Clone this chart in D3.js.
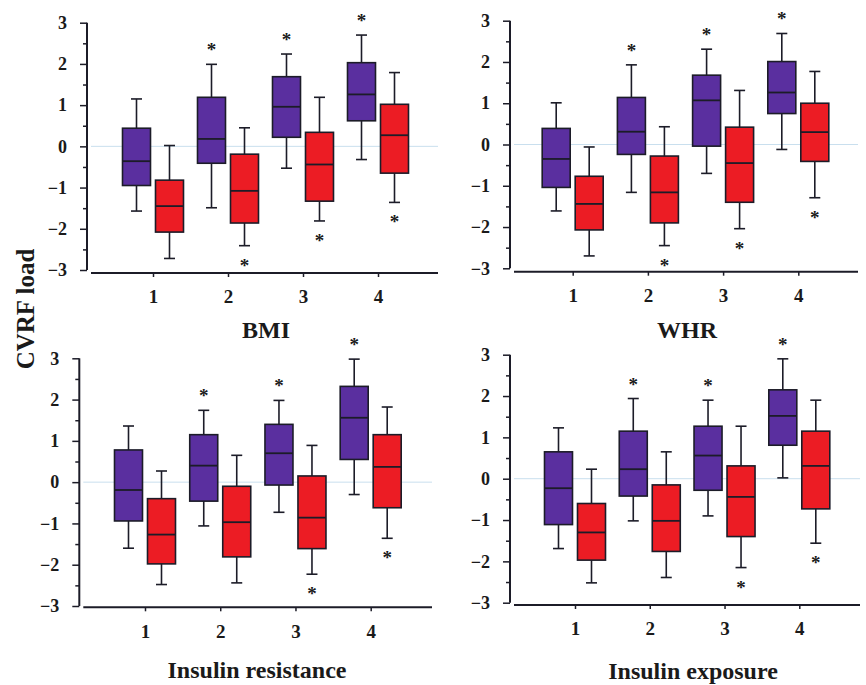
<!DOCTYPE html>
<html>
<head>
<meta charset="utf-8">
<script src="https://cdn.jsdelivr.net/npm/d3@7"></script>
<style>
  body { margin: 0; background: #fff; }
  svg text { font-family: "Liberation Serif", "Times New Roman", serif; font-weight: bold; fill: #1a1a1a; }
</style>
</head>
<body>
<div id="chart"></div>
<script>
// Categories and ticks
const categories = [1, 2, 3, 4];
const yTicks = [-3, -2, -1, 0, 1, 2, 3];
const titles = ["BMI", "WHR", "Insulin resistance", "Insulin exposure"];

// Box data per group: [whisker low, q1, median, q3, whisker high]
const bmiBlue = [[-1.57, -0.95, -0.36, 0.44, 1.15], [-1.49, -0.41, 0.18, 1.19, 1.99], [-0.53, 0.22, 0.96, 1.69, 2.24], [-0.32, 0.62, 1.26, 2.03, 2.70]];
const bmiRed  = [[-2.72, -2.08, -1.45, -0.82, 0.02], [-2.41, -1.86, -1.08, -0.19, 0.45], [-1.81, -1.33, -0.44, 0.34, 1.19], [-1.36, -0.65, 0.27, 1.02, 1.79]];
const whrBlue = [[-1.61, -1.04, -0.35, 0.39, 1.01], [-1.16, -0.24, 0.31, 1.14, 1.93], [-0.70, -0.04, 1.07, 1.68, 2.31], [-0.12, 0.75, 1.26, 2.01, 2.69]];
const whrRed  = [[-2.70, -2.07, -1.44, -0.77, -0.06], [-2.45, -1.90, -1.16, -0.28, 0.43], [-2.04, -1.40, -0.45, 0.42, 1.31], [-1.29, -0.41, 0.30, 1.00, 1.77]];
const irBlue  = [[-1.60, -0.94, -0.19, 0.78, 1.36], [-1.06, -0.46, 0.40, 1.15, 1.74], [-0.73, -0.07, 0.70, 1.40, 1.98], [-0.30, 0.55, 1.56, 2.32, 2.98]];
const irRed   = [[-2.48, -1.98, -1.27, -0.40, 0.27], [-2.44, -1.81, -0.97, -0.10, 0.65], [-2.23, -1.61, -0.86, 0.15, 0.89], [-1.36, -0.62, 0.37, 1.15, 1.82]];
const ieBlue  = [[-1.69, -1.11, -0.23, 0.65, 1.23], [-1.02, -0.42, 0.23, 1.15, 1.94], [-0.90, -0.28, 0.56, 1.27, 1.90], [0.02, 0.81, 1.52, 2.15, 2.90]];
const ieRed   = [[-2.52, -1.97, -1.30, -0.60, 0.23], [-2.39, -1.76, -1.02, -0.15, 0.65], [-2.15, -1.40, -0.44, 0.31, 1.27], [-1.56, -0.73, 0.31, 1.15, 1.90]];

// Significance stars (1 = star shown)
const bmiBlueStar = [0, 1, 1, 1], bmiRedStar = [0, 1, 1, 1];
const whrBlueStar = [0, 1, 1, 1], whrRedStar = [0, 1, 1, 1];
const irBlueStar  = [0, 1, 1, 1], irRedStar  = [0, 0, 1, 1];
const ieBlueStar  = [0, 1, 1, 1], ieRedStar  = [0, 0, 1, 1];

const blue = "#5a2f9f";
const red = "#ec1c24";
const dark = "#1c1c28";

const svg = d3.select("#chart").append("svg")
  .attr("width", 866)
  .attr("height", 685);

// Panel layout (pixel positions)
const panels = [
  { title: titles[0], blue: bmiBlue, red: bmiRed, bs: bmiBlueStar, rs: bmiRedStar,
    ax: 87, yTop: 22.7, yBot: 270, xAxisY: 273, c1: 153, c4: 378, xEnd: 438, titleY: 338, titleX: 266 },
  { title: titles[1], blue: whrBlue, red: whrRed, bs: whrBlueStar, rs: whrRedStar,
    ax: 510, yTop: 20.7, yBot: 268.3, xAxisY: 271.7, c1: 572.7, c4: 798.3, xEnd: 858, titleY: 338, titleX: 687 },
  { title: titles[2], blue: irBlue, red: irRed, bs: irBlueStar, rs: irRedStar,
    ax: 79.3, yTop: 358.3, yBot: 606, xAxisY: 607.3, c1: 145, c4: 370.7, xEnd: 432, titleY: 678, titleX: 257 },
  { title: titles[3], blue: ieBlue, red: ieRed, bs: ieBlueStar, rs: ieRedStar,
    ax: 510, yTop: 354.7, yBot: 602.7, xAxisY: 605, c1: 575, c4: 799.3, xEnd: 860, titleY: 679, titleX: 693 }
];

panels.forEach(drawPanel);

// Shared y label
svg.append("text")
  .attr("transform", "translate(34,309) rotate(-90)")
  .attr("text-anchor", "middle")
  .style("font-size", "25px")
  .text("CVRF load");

function drawPanel(p) {
  const g = svg.append("g");

  const y = d3.scaleLinear().domain([-3, 3]).range([p.yBot, p.yTop]);
  const x = d3.scaleLinear().domain([1, 4]).range([p.c1, p.c4]);

  // zero reference line
  g.append("line")
    .attr("x1", p.ax + 4).attr("x2", p.xEnd)
    .attr("y1", y(0)).attr("y2", y(0))
    .attr("stroke", "#c9dfee")
    .attr("stroke-width", 1);

  // y axis with minor ticks at halves
  const halfTicks = d3.range(-3, 3.01, 0.5);
  const yAxis = d3.axisLeft(y)
    .tickValues(halfTicks)
    .tickSize(7)
    .tickPadding(13)
    .tickFormat(d => yTicks.includes(d) ? d3.format("d")(d) : "");

  g.append("g")
    .attr("transform", `translate(${p.ax},0)`)
    .call(yAxis)
    .call(a => a.select(".domain").attr("stroke", dark).attr("stroke-width", 2).attr("d", `M0,${p.yTop}V${p.yBot}`))
    .call(a => a.selectAll(".tick line")
      .attr("stroke", dark).attr("stroke-width", 1.5)
      .attr("x2", d => yTicks.includes(d) ? -7 : -4))
    .call(a => a.selectAll(".tick text")
      .style("font-size", "18px")
      .attr("fill", dark));

  // x axis
  const xAxis = d3.axisBottom(x)
    .tickValues(categories)
    .tickSize(4)
    .tickPadding(13)
    .tickFormat(d3.format("d"));

  g.append("g")
    .attr("transform", `translate(0,${p.xAxisY})`)
    .call(xAxis)
    .call(a => a.select(".domain").attr("stroke", dark).attr("stroke-width", 2).attr("d", `M${p.ax + 4},0H${p.xEnd}`))
    .call(a => a.selectAll(".tick line").attr("stroke", dark).attr("stroke-width", 1.5))
    .call(a => a.selectAll(".tick text").style("font-size", "19px").attr("fill", dark));

  const boxW = 28;
  const capW = 11;
  const offset = 16.5;

  const series = [
    { data: p.blue, color: blue, dx: -offset, stars: p.bs, up: true },
    { data: p.red, color: red, dx: offset, stars: p.rs, up: false }
  ];

  series.forEach(s => {
    const bx = g.selectAll(null)
      .data(s.data.map((v, i) => ({ v, c: categories[i], star: s.stars[i] })))
      .enter().append("g")
      .attr("transform", d => `translate(${x(d.c) + s.dx},0)`);

    // whisker
    bx.append("line")
      .attr("y1", d => y(d.v[0])).attr("y2", d => y(d.v[4]))
      .attr("stroke", dark).attr("stroke-width", 1.6);
    bx.append("line")
      .attr("x1", -capW / 2).attr("x2", capW / 2)
      .attr("y1", d => y(d.v[4])).attr("y2", d => y(d.v[4]))
      .attr("stroke", dark).attr("stroke-width", 1.6);
    bx.append("line")
      .attr("x1", -capW / 2).attr("x2", capW / 2)
      .attr("y1", d => y(d.v[0])).attr("y2", d => y(d.v[0]))
      .attr("stroke", dark).attr("stroke-width", 1.6);

    // box
    bx.append("rect")
      .attr("x", -boxW / 2)
      .attr("width", boxW)
      .attr("y", d => y(d.v[3]))
      .attr("height", d => y(d.v[1]) - y(d.v[3]))
      .attr("fill", s.color)
      .attr("stroke", dark)
      .attr("stroke-width", 1.6);

    // median
    bx.append("line")
      .attr("x1", -boxW / 2).attr("x2", boxW / 2)
      .attr("y1", d => y(d.v[2])).attr("y2", d => y(d.v[2]))
      .attr("stroke", dark).attr("stroke-width", 1.8);

    // stars
    bx.filter(d => d.star)
      .append("text")
      .attr("text-anchor", "middle")
      .attr("y", d => s.up ? y(d.v[4]) - 17 + 9 : y(d.v[0]) + 17 + 9)
      .style("font-size", "19px")
      .attr("fill", "#333")
      .text("*");
  });

  // panel title
  g.append("text")
    .attr("x", p.titleX)
    .attr("y", p.titleY)
    .attr("text-anchor", "middle")
    .style("font-size", "24px")
    .text(p.title);
}
</script>
</body>
</html>
